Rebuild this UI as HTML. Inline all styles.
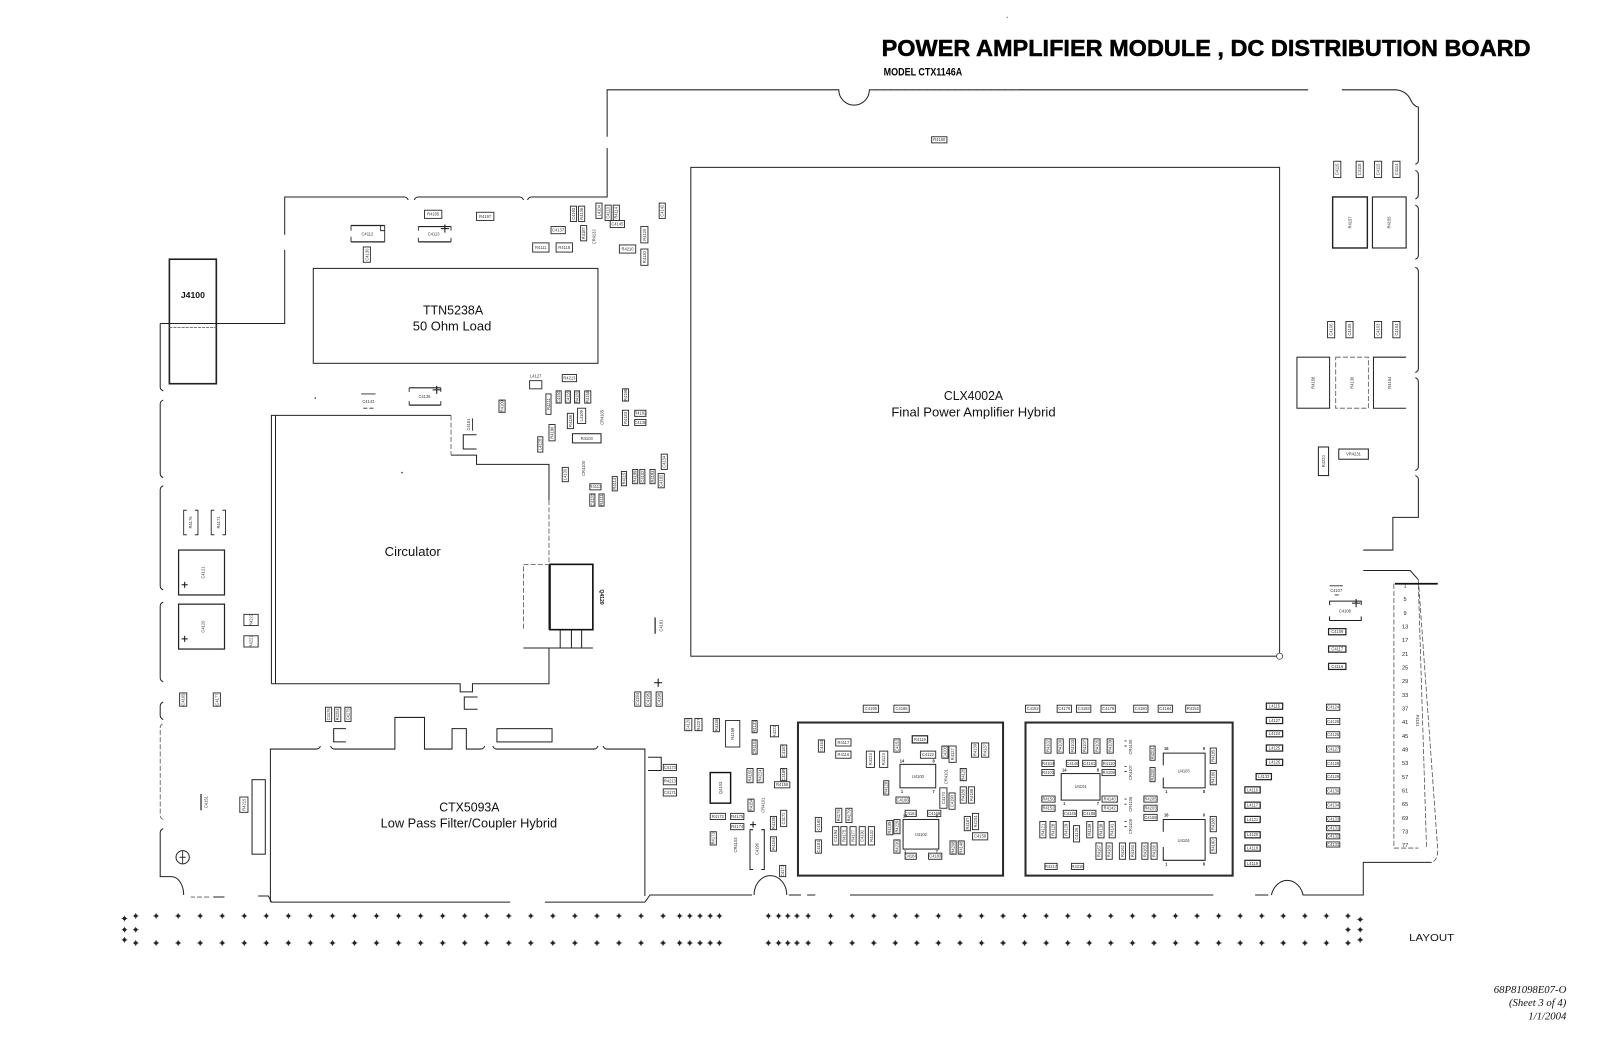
<!DOCTYPE html>
<html><head><meta charset="utf-8"><style>
html,body{margin:0;padding:0;background:#fff;}
svg{display:block}
text{font-family:"Liberation Sans",sans-serif;}
.s{font-size:4px;fill:#333;text-anchor:middle}
.n{font-size:5.5px;fill:#222;text-anchor:middle}
.c{fill:none;stroke:#2a2a2a;stroke-width:.9}
.b{fill:none;stroke:#222;stroke-width:1.2}
.l{fill:none;stroke:#222;stroke-width:1}
.g{fill:none;stroke:#555;stroke-width:.8;stroke-dasharray:5 2}
.k{fill:none;stroke:#2a2a2a;stroke-width:2}
.m{font-size:12.5px;fill:#111;text-anchor:middle}
.p{stroke:#111;stroke-width:1;fill:none}
</style></head><body>
<svg width="1600" height="1044" viewBox="0 0 1568 1023" preserveAspectRatio="none" xmlns="http://www.w3.org/2000/svg" xmlns:xlink="http://www.w3.org/1999/xlink">
<defs><g id="d"><circle r="1.7" fill="#222"/><path d="M-2.8,0H2.8M0,-2.8V2.8" stroke="#222" stroke-width=".7"/></g></defs>
<rect width="1568" height="1023" fill="#fff"/>

<!-- Title -->
<text x="864" y="55" font-size="23" font-weight="bold" textLength="636" lengthAdjust="spacingAndGlyphs" fill="#000" stroke="#000" stroke-width=".5">POWER AMPLIFIER MODULE , DC DISTRIBUTION BOARD</text>
<text x="866" y="74" font-size="10.5" font-weight="bold" textLength="77" lengthAdjust="spacingAndGlyphs" fill="#000">MODEL CTX1146A</text>
<circle cx="987" cy="17" r=".6" fill="#555"/>

<!-- Board outline -->
<path class="l" d="M157,317H279V245M279,230V193H396q3,0 4,3M406,196q1,-3 4,-3H509q3,0 4,3M517,196q1,-3 4,-3H595V145M595,134V88H822A15,15 0 0 0 852,88H1282M1315,88H1368Q1378,89 1382,97Q1385,104 1390,105V157q0,3 -3,4M1387,167q3,1 3,4V191q0,3 -3,4M1387,201q3,1 3,4V250q0,3 -3,4M1387,262q3,1 3,4V361q0,3 -3,4M1387,370q3,1 3,4V457q0,3 -3,4M1387,466q3,1 3,4V507H1365V539H1336M1336,559H1382L1390,568M1403,845H1336V877H1277A16,19 0 0 0 1246,877M1243,877H1230M1189,877H833M799,877H791M785,877H773M771,877A16,19 0 0 0 739,877M737,877H637L632,884H534M500,884H266L263,878H253M220,879H209M180,877A12,18 0 0 0 168,859H157V816q0,-3 3,-4"/>
<path class="g" d="M1390,568L1409,833Q1409,843 1403,845M205,879H187M853,88H1000"/>
<path class="l" d="M160,705q-3,-1 -3,-4V692q0,-3 3,-4M160,668q-3,-1 -3,-4V594q0,-3 3,-4M160,578q-3,-1 -3,-4V480q0,-3 3,-4M160,468q-3,-1 -3,-4V396q0,-3 3,-4M160,383q-3,-1 -3,-4V317"/>
<path class="g" d="M160,803q-3,-1 -3,-4V713q0,-3 3,-4"/>

<!-- CLX4002A -->
<rect class="l" x="677" y="164" width="577" height="479"/>
<circle cx="1254" cy="643" r="3" fill="#fff" stroke="#444" stroke-width=".8"/>
<text class="m" x="954" y="392" textLength="58" lengthAdjust="spacingAndGlyphs">CLX4002A</text>
<text class="m" x="954" y="408" textLength="161" lengthAdjust="spacingAndGlyphs">Final Power Amplifier Hybrid</text>
<rect x="913" y="134" width="15" height="6" class="c"/><text class="s" x="920.5" y="138.4">R4160</text>

<!-- TTN5238A -->
<rect class="l" x="307" y="263" width="279" height="93"/>
<text class="m" x="444" y="308" textLength="59" lengthAdjust="spacingAndGlyphs">TTN5238A</text>
<text class="m" x="443" y="324" textLength="77" lengthAdjust="spacingAndGlyphs">50 Ohm Load</text>

<!-- J4100 -->
<rect x="166" y="254" width="46" height="122" fill="none" stroke="#222" stroke-width="1.6"/>
<path d="M166,321H212" stroke="#666" stroke-width=".8" stroke-dasharray="3 1"/>
<text x="189" y="292" font-size="8.5" font-weight="bold" text-anchor="middle" fill="#111">J4100</text>

<!-- Circulator -->
<path class="l" d="M266,670V407H442M270,670V407M442,446H467V455H538V490M538,553V617M538,635V670H463V678H451V670H266M467,426H454V440H467M468,683H455V695H468"/>
<path class="g" d="M442,407V446M538,490V553"/>
<text class="m" x="404.5" y="545" textLength="55" lengthAdjust="spacingAndGlyphs">Circulator</text>
<circle cx="394" cy="463" r=".8" fill="#333"/><circle cx="309" cy="390" r=".8" fill="#333"/>
<rect x="539" y="553" width="42" height="64" fill="none" stroke="#111" stroke-width="1.6"/>
<path class="g" d="M539,553H513V617"/>
<path class="l" d="M549,617V635M560,617V635M570,617V635M513,635H581"/>
<text x="588" y="585" font-size="5" font-weight="bold" text-anchor="middle" transform="rotate(90 588 585)" fill="#111">Q4120</text>

<!-- CTX5093A -->
<path class="l" d="M265,884V734H310q3,0 4,-3M324,731q1,3 4,3H387V703H416V734H443V714H457V734H471q3,0 4,-3M483,731q1,3 4,3H582q3,0 4,-3M591,731q1,3 4,3H632V878M339,714H327V727H339M635,742H648V755H635"/>
<rect class="l" x="487" y="714" width="54" height="13"/>
<text class="m" x="460" y="795" textLength="59" lengthAdjust="spacingAndGlyphs">CTX5093A</text>
<text class="m" x="459.5" y="811" textLength="173" lengthAdjust="spacingAndGlyphs">Low Pass Filter/Coupler Hybrid</text>

<!-- Sub boards -->
<rect class="k" x="782" y="708" width="201" height="150"/>
<rect class="k" x="1005" y="708" width="203" height="150"/>

<!-- Top components -->
<rect class="c" x="416" y="206" width="17" height="8"/><text class="s" x="424.5" y="211.4">R4105</text>
<rect class="c" x="467" y="208" width="17" height="8"/><text class="s" x="475.5" y="213.4">R4197</text>
<path class="b" d="M344,221H377M344,237H377"/><path class="c" d="M344,221V226M344,232V237M377,221V237M373,221V226H377"/><text class="s" x="360" y="231">C4112</text>
<path class="b" d="M410,222H442M410,237H442"/><path class="c" d="M410,222V226M410,233V237M442,222V226M442,233V237"/><path class="p" d="M432,224H440M436,220V228"/><text class="s" x="425" y="231">C4113</text>
<rect class="c" x="356" y="242" width="7" height="15"/><text class="s" x="359.5" y="249.5" transform="rotate(-90 359.5 249.5)" dy="1.4">C4130</text>
<rect class="c" x="559" y="202" width="6" height="15"/><text class="s" x="562" y="209.5" transform="rotate(-90 562 209.5)" dy="1.4">C4193</text>
<rect class="c" x="567" y="202" width="6" height="15"/><text class="s" x="570" y="209.5" transform="rotate(-90 570 209.5)" dy="1.4">R4136</text>
<rect class="c" x="569" y="221" width="6" height="15"/><text class="s" x="572" y="228.5" transform="rotate(-90 572 228.5)" dy="1.4">R4187</text>
<rect class="c" x="584" y="199" width="6" height="15"/><text class="s" x="587" y="206.5" transform="rotate(-90 587 206.5)" dy="1.4">L4104</text>
<rect class="c" x="593" y="201" width="6" height="15"/><text class="s" x="596" y="208.5" transform="rotate(-90 596 208.5)" dy="1.4">C4110</text>
<rect class="c" x="601" y="201" width="6" height="15"/><text class="s" x="604" y="208.5" transform="rotate(-90 604 208.5)" dy="1.4">R4114</text>
<rect class="c" x="598" y="216" width="14" height="7"/><text class="s" x="605" y="220.9">C4145</text>
<rect class="c" x="646" y="199" width="6" height="15"/><text class="s" x="649" y="206.5" transform="rotate(-90 649 206.5)" dy="1.4">C4142</text>
<rect class="c" x="628" y="222" width="7" height="16"/><text class="s" x="631.5" y="230" transform="rotate(-90 631.5 230)" dy="1.4">R4120</text>
<rect class="c" x="628" y="244" width="7" height="16"/><text class="s" x="631.5" y="252" transform="rotate(-90 631.5 252)" dy="1.4">R4130</text>
<rect class="c" x="607" y="240" width="16" height="8"/><text class="s" x="615" y="245.4">R4210</text>
<rect class="c" x="540" y="222" width="14" height="7"/><text class="s" x="547" y="226.9">C4137</text>
<rect class="c" x="522" y="238" width="16" height="9"/><text class="s" x="530" y="243.9">R4111</text>
<rect class="c" x="545" y="238" width="16" height="9"/><text class="s" x="553" y="243.9">R4118</text>
<text class="s" x="582" y="232" transform="rotate(-90 582 232)" dy="1.4">CR4132</text>

<!-- Middle components -->
<path class="c" d="M354,386H368M356,400H360M362,400H366"/><text class="s" x="361" y="395">C4143</text>
<path class="b" d="M401,380H432M401,397H432"/><path class="c" d="M401,380V384M401,393V397M432,380V384M432,393V397"/><path class="p" d="M424,382H432M428,378V386"/><text class="s" x="416" y="390">C4136</text>
<rect class="c" x="519" y="373" width="12" height="8"/><text class="s" x="525" y="370">L4127</text>
<rect class="c" x="551" y="367" width="14" height="7"/><text class="s" x="558" y="371.9">R4213</text>
<rect class="c" x="535" y="386" width="5" height="20"/><text class="s" x="537.5" y="396" transform="rotate(-90 537.5 396)" dy="1.4">R4211</text>
<rect class="c" x="545" y="383" width="5" height="12"/><text class="s" x="547.5" y="389" transform="rotate(-90 547.5 389)" dy="1.4">C4150</text>
<rect class="c" x="554" y="383" width="5" height="12"/><text class="s" x="556.5" y="389" transform="rotate(-90 556.5 389)" dy="1.4">C4155</text>
<rect class="c" x="563" y="383" width="5" height="12"/><text class="s" x="565.5" y="389" transform="rotate(-90 565.5 389)" dy="1.4">R4181</text>
<rect class="c" x="573" y="383" width="6" height="12"/><text class="s" x="576" y="389" transform="rotate(-90 576 389)" dy="1.4">R4158</text>
<rect class="c" x="610" y="381" width="6" height="12"/><text class="s" x="613" y="387" transform="rotate(-90 613 387)" dy="1.4">R4198</text>
<rect class="c" x="489" y="392" width="6" height="12"/><text class="s" x="492" y="398" transform="rotate(-90 492 398)" dy="1.4">R4109</text>
<rect class="c" x="556" y="405" width="6" height="15"/><text class="s" x="559" y="412.5" transform="rotate(-90 559 412.5)" dy="1.4">R4186</text>
<rect class="c" x="566" y="400" width="8" height="15"/><text class="s" x="570" y="407.5" transform="rotate(-90 570 407.5)" dy="1.4">L4109</text>
<text class="s" x="590" y="409" transform="rotate(-90 590 409)" dy="1.4">CR4105</text>
<rect class="c" x="610" y="402" width="6" height="15"/><text class="s" x="613" y="409.5" transform="rotate(-90 613 409.5)" dy="1.4">R4183</text>
<rect class="c" x="622" y="402" width="11" height="6"/><text class="s" x="627.5" y="406.4">R4182</text>
<rect class="c" x="622" y="411" width="11" height="6"/><text class="s" x="627.5" y="415.4">C4138</text>
<rect class="c" x="538" y="416" width="6" height="16"/><text class="s" x="541" y="424" transform="rotate(-90 541 424)" dy="1.4">R4196</text>
<rect class="c" x="527" y="428" width="5" height="15"/><text class="s" x="529.5" y="435.5" transform="rotate(-90 529.5 435.5)" dy="1.4">L4128</text>
<rect class="l" x="561" y="425" width="28" height="9"/><text class="s" x="575" y="431">R4103</text>
<rect class="c" x="551" y="458" width="6" height="14"/><text class="s" x="554" y="465" transform="rotate(-90 554 465)" dy="1.4">L4100</text>
<text class="s" x="572" y="459" transform="rotate(-90 572 459)" dy="1.4">CR4100</text>
<rect class="c" x="578" y="474" width="11" height="6"/><text class="s" x="583.5" y="478.4">R4113</text>
<rect class="c" x="578" y="484" width="5" height="12"/><text class="s" x="580.5" y="490" transform="rotate(-90 580.5 490)" dy="1.4">C4120</text>
<rect class="c" x="587" y="484" width="5" height="12"/><text class="s" x="589.5" y="490" transform="rotate(-90 589.5 490)" dy="1.4">R4111</text>
<rect class="c" x="600" y="467" width="5" height="14"/><text class="s" x="602.5" y="474" transform="rotate(-90 602.5 474)" dy="1.4">R4114</text>
<rect class="c" x="609" y="462" width="5" height="14"/><text class="s" x="611.5" y="469" transform="rotate(-90 611.5 469)" dy="1.4">R4115</text>
<rect class="c" x="620" y="460" width="5" height="14"/><text class="s" x="622.5" y="467" transform="rotate(-90 622.5 467)" dy="1.4">R4199</text>
<rect class="c" x="627" y="460" width="5" height="14"/><text class="s" x="629.5" y="467" transform="rotate(-90 629.5 467)" dy="1.4">C4102</text>
<rect class="c" x="637" y="460" width="5" height="14"/><text class="s" x="639.5" y="467" transform="rotate(-90 639.5 467)" dy="1.4">R4193</text>
<rect class="c" x="648" y="445" width="6" height="15"/><text class="s" x="651" y="452.5" transform="rotate(-90 651 452.5)" dy="1.4">C4134</text>
<rect class="c" x="645" y="464" width="6" height="14"/><text class="s" x="648" y="471" transform="rotate(-90 648 471)" dy="1.4">C4182</text>
<text class="s" x="459" y="416" transform="rotate(-90 459 416)" dy="1.4">C4151</text><path class="c" d="M463,410V422"/>
<path class="b" d="M642,605V621"/><text class="s" x="648" y="613" transform="rotate(-90 648 613)" dy="1.4">C4181</text>
<rect class="c" x="622" y="678" width="6" height="14"/><text class="s" x="625" y="685" transform="rotate(-90 625 685)" dy="1.4">C4194</text>
<rect class="c" x="632" y="678" width="6" height="14"/><text class="s" x="635" y="685" transform="rotate(-90 635 685)" dy="1.4">C4195</text>
<rect class="c" x="643" y="678" width="6" height="14"/><text class="s" x="646" y="685" transform="rotate(-90 646 685)" dy="1.4">C4198</text>
<path class="p" d="M641,669H649M645,665V673"/>

<!-- Left components -->
<path class="c" d="M183,500H180V524H183M191,500H194V524H191"/><text class="s" x="187" y="512" transform="rotate(-90 187 512)" dy="1.4">R4176</text>
<path class="c" d="M210,500H207V524H210M218,500H221V524H218"/><text class="s" x="214" y="512" transform="rotate(-90 214 512)" dy="1.4">R4171</text>
<rect x="175" y="539" width="45" height="44" fill="none" stroke="#222" stroke-width="1.2"/><text class="s" x="199" y="561" transform="rotate(-90 199 561)" dy="1.4">C4121</text><path class="p" d="M178,573H184M181,570V576"/>
<rect x="175" y="592" width="45" height="44" fill="none" stroke="#222" stroke-width="1.2"/><text class="s" x="199" y="614" transform="rotate(-90 199 614)" dy="1.4">C4120</text><path class="p" d="M178,626H184M181,623V629"/>
<rect class="c" x="239" y="602" width="14" height="11"/><text class="s" x="246" y="607.5" transform="rotate(-90 246 607.5)" dy="1.4">R4222</text>
<rect class="c" x="239" y="623" width="14" height="11"/><text class="s" x="246" y="628.5" transform="rotate(-90 246 628.5)" dy="1.4">R4221</text>
<rect class="c" x="176" y="679" width="7" height="13"/><text class="s" x="179.5" y="685.5" transform="rotate(-90 179.5 685.5)" dy="1.4">C4165</text>
<rect class="c" x="209" y="679" width="7" height="13"/><text class="s" x="212.5" y="685.5" transform="rotate(-90 212.5 685.5)" dy="1.4">C4177</text>
<path class="b" d="M197,778V794"/><text class="s" x="202" y="786" transform="rotate(-90 202 786)" dy="1.4">C4151</text>
<rect class="c" x="235" y="781" width="8" height="15"/><text class="s" x="239" y="788.5" transform="rotate(-90 239 788.5)" dy="1.4">R4215</text>
<rect class="l" x="247" y="764" width="13" height="73"/>
<circle cx="179" cy="840" r="6.5" class="l"/><path class="c" d="M179,834V846M176,840H182"/>
<rect class="c" x="319" y="693" width="6" height="14"/><text class="s" x="322" y="700" transform="rotate(-90 322 700)" dy="1.4">C4176</text>
<rect class="c" x="328" y="693" width="6" height="14"/><text class="s" x="331" y="700" transform="rotate(-90 331 700)" dy="1.4">R4204</text>
<rect class="c" x="338" y="693" width="6" height="14"/><text class="s" x="341" y="700" transform="rotate(-90 341 700)" dy="1.4">C4175</text>
<rect class="c" x="650" y="749" width="13" height="6"/><text class="s" x="656.5" y="753.4">C4173</text>
<rect class="c" x="650" y="762" width="13" height="7"/><text class="s" x="656.5" y="766.9">R4213</text>
<rect class="c" x="650" y="773" width="13" height="7"/><text class="s" x="656.5" y="777.9">C4171</text>

<!-- Bottom middle-left components -->
<rect class="c" x="671" y="704" width="7" height="12"/><text class="s" x="674.5" y="710" transform="rotate(-90 674.5 710)" dy="1.4">C4120</text>
<rect class="c" x="681" y="704" width="7" height="12"/><text class="s" x="684.5" y="710" transform="rotate(-90 684.5 710)" dy="1.4">R4207</text>
<rect class="c" x="699" y="704" width="6" height="13"/><text class="s" x="702" y="710.5" transform="rotate(-90 702 710.5)" dy="1.4">R4138</text>
<rect class="c" x="711" y="706" width="14" height="26"/><text class="s" x="718" y="719" transform="rotate(-90 718 719)" dy="1.4">R4159</text>
<rect class="c" x="737" y="706" width="5" height="12"/><text class="s" x="739.5" y="712" transform="rotate(-90 739.5 712)" dy="1.4">R4131</text>
<rect class="c" x="755" y="711" width="8" height="11"/><text class="s" x="759" y="716.5" transform="rotate(-90 759 716.5)" dy="1.4">R4221</text>
<rect class="c" x="737" y="725" width="5" height="14"/><text class="s" x="739.5" y="732" transform="rotate(-90 739.5 732)" dy="1.4">CR4104</text>
<rect class="c" x="765" y="730" width="6" height="12"/><text class="s" x="768" y="736" transform="rotate(-90 768 736)" dy="1.4">C4187</text>
<rect class="c" x="732" y="753" width="6" height="14"/><text class="s" x="735" y="760" transform="rotate(-90 735 760)" dy="1.4">R4150</text>
<rect class="c" x="742" y="753" width="6" height="14"/><text class="s" x="745" y="760" transform="rotate(-90 745 760)" dy="1.4">R4224</text>
<rect class="c" x="765" y="753" width="6" height="12"/><text class="s" x="768" y="759" transform="rotate(-90 768 759)" dy="1.4">C4189</text>
<rect class="c" x="759" y="766" width="15" height="6"/><text class="s" x="766.5" y="770.4">R4156</text>
<rect x="696" y="757" width="20" height="30" fill="none" stroke="#111" stroke-width="1.4"/><text class="s" x="706" y="772" transform="rotate(-90 706 772)" dy="1.4">Q4103</text>
<rect class="c" x="733" y="783" width="6" height="12"/><text class="s" x="736" y="789" transform="rotate(-90 736 789)" dy="1.4">R4154</text>
<text class="s" x="748" y="789" transform="rotate(-90 748 789)" dy="1.4">CR4101</text>
<rect class="c" x="755" y="800" width="6" height="13"/><text class="s" x="758" y="806.5" transform="rotate(-90 758 806.5)" dy="1.4">R4135</text>
<rect class="c" x="765" y="794" width="6" height="16"/><text class="s" x="768" y="802" transform="rotate(-90 768 802)" dy="1.4">C4172</text>
<rect class="c" x="696" y="797" width="15" height="6"/><text class="s" x="703.5" y="801.4">R4172</text>
<rect class="c" x="716" y="797" width="13" height="6"/><text class="s" x="722.5" y="801.4">R4175</text>
<rect class="c" x="716" y="807" width="13" height="6"/><text class="s" x="722.5" y="811.4">R4174</text>
<rect class="c" x="696" y="815" width="6" height="13"/><text class="s" x="699" y="821.5" transform="rotate(-90 699 821.5)" dy="1.4">R4173</text>
<text class="s" x="721" y="828" transform="rotate(-90 721 828)" dy="1.4">CR4103</text>
<path class="l" d="M738,813H735V852H738M746,813H749V852H746"/><text class="s" x="742" y="832" transform="rotate(-90 742 832)" dy="1.4">C4196</text><path class="p" d="M735,808H741M738,805V811"/>
<rect class="c" x="755" y="820" width="6" height="14"/><text class="s" x="758" y="827" transform="rotate(-90 758 827)" dy="1.4">R4184</text>
<rect class="c" x="764" y="848" width="6" height="11"/><text class="s" x="767" y="853.5" transform="rotate(-90 767 853.5)" dy="1.4">C4174</text>

<!-- Labels above sub-boards -->
<rect class="c" x="846" y="691" width="15" height="7"/><text class="s" x="853.5" y="695.9">C4195</text>
<rect class="c" x="876" y="691" width="15" height="7"/><text class="s" x="883.5" y="695.9">C4185</text>
<rect class="c" x="1005" y="691" width="14" height="7"/><text class="s" x="1012" y="695.9">C4182</text>
<rect class="c" x="1036" y="691" width="14" height="7"/><text class="s" x="1043" y="695.9">C4176</text>
<rect class="c" x="1055" y="691" width="14" height="7"/><text class="s" x="1062" y="695.9">C4183</text>
<rect class="c" x="1079" y="691" width="14" height="7"/><text class="s" x="1086" y="695.9">C4179</text>
<rect class="c" x="1111" y="691" width="14" height="7"/><text class="s" x="1118" y="695.9">C4180</text>
<rect class="c" x="1135" y="691" width="14" height="7"/><text class="s" x="1142" y="695.9">C4184</text>
<rect class="c" x="1162" y="691" width="14" height="7"/><text class="s" x="1169" y="695.9">R4152</text>

<!-- Sub-board 1 internals -->
<rect class="c" x="802" y="725" width="6" height="12"/><text class="s" x="805" y="731" transform="rotate(-90 805 731)" dy="1.4">C4153</text>
<rect class="c" x="819" y="724" width="15" height="7"/><text class="s" x="826.5" y="728.9">R4117</text>
<rect class="c" x="819" y="736" width="15" height="7"/><text class="s" x="826.5" y="740.9">R4116</text>
<rect class="c" x="849" y="736" width="8" height="16"/><text class="s" x="853" y="744" transform="rotate(-90 853 744)" dy="1.4">R4124</text>
<rect class="c" x="862" y="736" width="8" height="16"/><text class="s" x="866" y="744" transform="rotate(-90 866 744)" dy="1.4">R4123</text>
<rect class="c" x="876" y="724" width="6" height="13"/><text class="s" x="879" y="730.5" transform="rotate(-90 879 730.5)" dy="1.4">C4152</text>
<rect class="b" x="894" y="721" width="15" height="7"/><text class="s" x="901.5" y="725.9">R4119</text>
<rect class="c" x="902" y="736" width="15" height="7"/><text class="s" x="909.5" y="740.9">C4122</text>
<rect class="c" x="923" y="731" width="6" height="12"/><text class="s" x="926" y="737" transform="rotate(-90 926 737)" dy="1.4">C4200</text>
<rect class="c" x="930" y="731" width="7" height="16"/><text class="s" x="933.5" y="739" transform="rotate(-90 933.5 739)" dy="1.4">R4127</text>
<rect class="c" x="952" y="728" width="7" height="14"/><text class="s" x="955.5" y="735" transform="rotate(-90 955.5 735)" dy="1.4">R4139</text>
<rect class="c" x="962" y="728" width="7" height="14"/><text class="s" x="965.5" y="735" transform="rotate(-90 965.5 735)" dy="1.4">R4137</text>
<rect class="c" x="941" y="753" width="6" height="12"/><text class="s" x="944" y="759" transform="rotate(-90 944 759)" dy="1.4">R4125</text>
<text class="s" x="927" y="761" transform="rotate(-90 927 761)" dy="1.4">CR4101</text>
<rect class="c" x="866" y="765" width="5" height="14"/><text class="s" x="868.5" y="772" transform="rotate(-90 868.5 772)" dy="1.4">R4128</text>
<rect class="c" x="878" y="781" width="13" height="6"/><text class="s" x="884.5" y="785.4">C4166</text>
<rect class="c" x="921" y="772" width="7" height="20"/><text class="s" x="924.5" y="782" transform="rotate(-90 924.5 782)" dy="1.4">C4170</text>
<rect class="c" x="930" y="777" width="6" height="16"/><text class="s" x="933" y="785" transform="rotate(-90 933 785)" dy="1.4">C4190</text>
<rect class="c" x="941" y="771" width="6" height="16"/><text class="s" x="944" y="779" transform="rotate(-90 944 779)" dy="1.4">R4186</text>
<rect class="c" x="949" y="771" width="6" height="16"/><text class="s" x="952" y="779" transform="rotate(-90 952 779)" dy="1.4">R4188</text>
<rect class="c" x="887" y="794" width="11" height="6"/><text class="s" x="892.5" y="798.4">C4163</text>
<rect class="c" x="909" y="794" width="13" height="6"/><text class="s" x="915.5" y="798.4">C4168</text>
<rect class="c" x="945" y="800" width="6" height="14"/><text class="s" x="948" y="807" transform="rotate(-90 948 807)" dy="1.4">R4187</text>
<rect class="c" x="953" y="797" width="6" height="16"/><text class="s" x="956" y="805" transform="rotate(-90 956 805)" dy="1.4">R4204</text>
<rect class="c" x="953" y="816" width="15" height="7"/><text class="s" x="960.5" y="820.9">C4158</text>
<rect class="c" x="869" y="804" width="6" height="14"/><text class="s" x="872" y="811" transform="rotate(-90 872 811)" dy="1.4">R4189</text>
<rect class="c" x="876" y="803" width="6" height="14"/><text class="s" x="879" y="810" transform="rotate(-90 879 810)" dy="1.4">R4229</text>
<rect class="c" x="876" y="823" width="6" height="13"/><text class="s" x="879" y="829.5" transform="rotate(-90 879 829.5)" dy="1.4">R4230</text>
<rect class="c" x="887" y="836" width="11" height="6"/><text class="s" x="892.5" y="840.4">C4184</text>
<rect class="c" x="910" y="836" width="13" height="6"/><text class="s" x="916.5" y="840.4">C4183</text>
<rect class="c" x="931" y="824" width="6" height="13"/><text class="s" x="934" y="830.5" transform="rotate(-90 934 830.5)" dy="1.4">R4208</text>
<rect class="c" x="939" y="824" width="6" height="13"/><text class="s" x="942" y="830.5" transform="rotate(-90 942 830.5)" dy="1.4">R4148</text>
<rect class="c" x="799" y="823" width="6" height="13"/><text class="s" x="802" y="829.5" transform="rotate(-90 802 829.5)" dy="1.4">C4181</text>
<rect class="c" x="799" y="801" width="6" height="14"/><text class="s" x="802" y="808" transform="rotate(-90 802 808)" dy="1.4">C4180</text>
<rect class="c" x="816" y="810" width="6" height="18"/><text class="s" x="819" y="819" transform="rotate(-90 819 819)" dy="1.4">C4194</text>
<rect class="c" x="824" y="810" width="6" height="18"/><text class="s" x="827" y="819" transform="rotate(-90 827 819)" dy="1.4">R4175</text>
<rect class="c" x="833" y="810" width="6" height="18"/><text class="s" x="836" y="819" transform="rotate(-90 836 819)" dy="1.4">R4177</text>
<rect class="c" x="842" y="810" width="6" height="18"/><text class="s" x="845" y="819" transform="rotate(-90 845 819)" dy="1.4">C4192</text>
<rect class="c" x="851" y="810" width="6" height="18"/><text class="s" x="854" y="819" transform="rotate(-90 854 819)" dy="1.4">R4132</text>
<rect class="c" x="819" y="792" width="6" height="14"/><text class="s" x="822" y="799" transform="rotate(-90 822 799)" dy="1.4">R4178</text>
<rect class="c" x="829" y="792" width="6" height="14"/><text class="s" x="832" y="799" transform="rotate(-90 832 799)" dy="1.4">R4179</text>
<rect x="882" y="749" width="35" height="23" fill="none" stroke="#222" stroke-width="1"/><text class="s" x="899.5" y="762.5">U4100</text>
<text class="s" x="884" y="747" font-weight="bold">14</text><text class="s" x="915" y="747" font-weight="bold">8</text><text class="s" x="884" y="777" font-weight="bold">1</text><text class="s" x="915" y="777" font-weight="bold">7</text>
<rect x="885" y="803" width="35" height="29" fill="none" stroke="#222" stroke-width="1"/><text class="s" x="902.5" y="819">U4102</text>
<text class="s" x="887" y="801" font-weight="bold">14</text><text class="s" x="918" y="801" font-weight="bold">8</text><text class="s" x="887" y="836" font-weight="bold">1</text><text class="s" x="918" y="836" font-weight="bold">7</text>

<!-- Sub-board 2 internals -->
<rect class="c" x="1024" y="724" width="6" height="14"/><text class="s" x="1027" y="731" transform="rotate(-90 1027 731)" dy="1.4">R4102</text>
<rect class="c" x="1036" y="724" width="6" height="14"/><text class="s" x="1039" y="731" transform="rotate(-90 1039 731)" dy="1.4">R4106</text>
<rect class="c" x="1048" y="724" width="6" height="14"/><text class="s" x="1051" y="731" transform="rotate(-90 1051 731)" dy="1.4">R4103</text>
<rect class="c" x="1060" y="724" width="6" height="14"/><text class="s" x="1063" y="731" transform="rotate(-90 1063 731)" dy="1.4">R4107</text>
<rect class="c" x="1072" y="724" width="6" height="14"/><text class="s" x="1075" y="731" transform="rotate(-90 1075 731)" dy="1.4">R4105</text>
<rect class="c" x="1085" y="724" width="6" height="14"/><text class="s" x="1088" y="731" transform="rotate(-90 1088 731)" dy="1.4">R4109</text>
<rect class="c" x="1021" y="745" width="12" height="6"/><text class="s" x="1027" y="749.4">R4104</text>
<rect class="c" x="1045" y="745" width="12" height="6"/><text class="s" x="1051" y="749.4">C4146</text>
<rect class="c" x="1061" y="745" width="13" height="6"/><text class="s" x="1067.5" y="749.4">C4161</text>
<rect class="c" x="1080" y="745" width="13" height="6"/><text class="s" x="1086.5" y="749.4">R4110</text>
<rect class="c" x="1021" y="754" width="12" height="6"/><text class="s" x="1027" y="758.4">R4102</text>
<rect class="c" x="1080" y="754" width="13" height="6"/><text class="s" x="1086.5" y="758.4">R4108</text>
<text class="s" x="1108" y="732" transform="rotate(-90 1108 732)" dy="1.4">CR4106</text>
<text class="s" x="1108" y="757" transform="rotate(-90 1108 757)" dy="1.4">CR4107</text>
<text class="s" x="1108" y="788" transform="rotate(-90 1108 788)" dy="1.4">CR4105</text>
<text class="s" x="1108" y="810" transform="rotate(-90 1108 810)" dy="1.4">CR4108</text>
<path class="c" d="M1102,726h2M1102,731h2M1102,751h2M1102,756h2M1102,783h2M1102,788h2M1102,805h2M1102,810h2"/>
<rect class="c" x="1127" y="731" width="5" height="14"/><text class="s" x="1129.5" y="738" transform="rotate(-90 1129.5 738)" dy="1.4">R4201</text>
<rect class="c" x="1127" y="752" width="5" height="14"/><text class="s" x="1129.5" y="759" transform="rotate(-90 1129.5 759)" dy="1.4">R4200</text>
<rect class="c" x="1186" y="733" width="6" height="15"/><text class="s" x="1189" y="740.5" transform="rotate(-90 1189 740.5)" dy="1.4">R4185</text>
<rect class="c" x="1186" y="755" width="6" height="14"/><text class="s" x="1189" y="762" transform="rotate(-90 1189 762)" dy="1.4">R4186</text>
<rect class="c" x="1021" y="780" width="13" height="6"/><text class="s" x="1027.5" y="784.4">R4150</text>
<rect class="c" x="1021" y="789" width="13" height="6"/><text class="s" x="1027.5" y="793.4">R4152</text>
<rect class="c" x="1080" y="780" width="15" height="6"/><text class="s" x="1087.5" y="784.4">R4140</text>
<rect class="c" x="1080" y="789" width="15" height="6"/><text class="s" x="1087.5" y="793.4">R4142</text>
<rect class="c" x="1042" y="794" width="13" height="6"/><text class="s" x="1048.5" y="798.4">C4145</text>
<rect class="c" x="1061" y="794" width="13" height="6"/><text class="s" x="1067.5" y="798.4">C4185</text>
<rect class="c" x="1121" y="780" width="13" height="6"/><text class="s" x="1127.5" y="784.4">R4205</text>
<rect class="c" x="1121" y="789" width="13" height="6"/><text class="s" x="1127.5" y="793.4">R4203</text>
<rect class="c" x="1121" y="798" width="13" height="6"/><text class="s" x="1127.5" y="802.4">C4159</text>
<rect class="c" x="1019" y="805" width="6" height="16"/><text class="s" x="1022" y="813" transform="rotate(-90 1022 813)" dy="1.4">R4121</text>
<rect class="c" x="1029" y="805" width="6" height="16"/><text class="s" x="1032" y="813" transform="rotate(-90 1032 813)" dy="1.4">R4128</text>
<rect class="c" x="1042" y="805" width="6" height="16"/><text class="s" x="1045" y="813" transform="rotate(-90 1045 813)" dy="1.4">R4129</text>
<rect class="c" x="1052" y="809" width="6" height="16"/><text class="s" x="1055" y="817" transform="rotate(-90 1055 817)" dy="1.4">C4126</text>
<rect class="c" x="1065" y="805" width="6" height="16"/><text class="s" x="1068" y="813" transform="rotate(-90 1068 813)" dy="1.4">R4139</text>
<rect class="c" x="1076" y="805" width="6" height="16"/><text class="s" x="1079" y="813" transform="rotate(-90 1079 813)" dy="1.4">R4138</text>
<rect class="c" x="1087" y="805" width="6" height="16"/><text class="s" x="1090" y="813" transform="rotate(-90 1090 813)" dy="1.4">R4141</text>
<rect class="c" x="1024" y="846" width="12" height="6"/><text class="s" x="1030" y="850.4">R4217</text>
<rect class="c" x="1050" y="846" width="12" height="6"/><text class="s" x="1056" y="850.4">R4216</text>
<rect class="c" x="1074" y="826" width="6" height="16"/><text class="s" x="1077" y="834" transform="rotate(-90 1077 834)" dy="1.4">R4167</text>
<rect class="c" x="1084" y="826" width="6" height="16"/><text class="s" x="1087" y="834" transform="rotate(-90 1087 834)" dy="1.4">R4169</text>
<rect class="c" x="1097" y="826" width="6" height="16"/><text class="s" x="1100" y="834" transform="rotate(-90 1100 834)" dy="1.4">R4162</text>
<rect class="c" x="1107" y="826" width="6" height="16"/><text class="s" x="1110" y="834" transform="rotate(-90 1110 834)" dy="1.4">R4163</text>
<rect class="c" x="1119" y="826" width="6" height="16"/><text class="s" x="1122" y="834" transform="rotate(-90 1122 834)" dy="1.4">R4165</text>
<rect class="c" x="1128" y="826" width="6" height="16"/><text class="s" x="1131" y="834" transform="rotate(-90 1131 834)" dy="1.4">R4166</text>
<rect class="c" x="1186" y="800" width="6" height="15"/><text class="s" x="1189" y="807.5" transform="rotate(-90 1189 807.5)" dy="1.4">R4188</text>
<rect class="c" x="1186" y="821" width="6" height="15"/><text class="s" x="1189" y="828.5" transform="rotate(-90 1189 828.5)" dy="1.4">R4190</text>
<rect x="1040" y="758" width="38" height="26" fill="none" stroke="#222" stroke-width="1"/><text class="s" x="1059" y="772">U4101</text>
<text class="s" x="1043" y="756" font-weight="bold">14</text><text class="s" x="1076" y="756" font-weight="bold">8</text><text class="s" x="1043" y="789" font-weight="bold">1</text><text class="s" x="1076" y="789" font-weight="bold">7</text>
<path d="M1140,750V738H1181V772H1140V762" fill="none" stroke="#222" stroke-width="1"/><text class="s" x="1160" y="757">U4103</text>
<text class="s" x="1143" y="735" font-weight="bold">16</text><text class="s" x="1180" y="735" font-weight="bold">9</text><text class="s" x="1143" y="777" font-weight="bold">1</text><text class="s" x="1180" y="777" font-weight="bold">8</text>
<path d="M1140,815V803H1181V843H1140V830" fill="none" stroke="#222" stroke-width="1"/><text class="s" x="1160" y="825">U4104</text>
<text class="s" x="1143" y="800" font-weight="bold">16</text><text class="s" x="1180" y="800" font-weight="bold">9</text><text class="s" x="1143" y="848" font-weight="bold">1</text><text class="s" x="1180" y="848" font-weight="bold">8</text>

<!-- Right of CLX -->
<rect class="c" x="1307" y="158" width="7" height="16"/><text class="s" x="1310.5" y="166" transform="rotate(-90 1310.5 166)" dy="1.4">C4115</text>
<rect class="c" x="1329" y="158" width="7" height="16"/><text class="s" x="1332.5" y="166" transform="rotate(-90 1332.5 166)" dy="1.4">C4118</text>
<rect class="c" x="1347" y="158" width="7" height="16"/><text class="s" x="1350.5" y="166" transform="rotate(-90 1350.5 166)" dy="1.4">C4115</text>
<rect class="c" x="1365" y="158" width="7" height="16"/><text class="s" x="1368.5" y="166" transform="rotate(-90 1368.5 166)" dy="1.4">C4114</text>
<rect x="1306" y="193" width="34" height="50" fill="none" stroke="#222" stroke-width="1.4"/><text class="s" x="1323" y="218" transform="rotate(-90 1323 218)" dy="1.4">R4157</text>
<rect x="1345" y="193" width="33" height="50" fill="none" stroke="#222" stroke-width="1.1"/><text class="s" x="1361.5" y="218" transform="rotate(-90 1361.5 218)" dy="1.4">R4155</text>
<rect class="c" x="1301" y="315" width="7" height="16"/><text class="s" x="1304.5" y="323" transform="rotate(-90 1304.5 323)" dy="1.4">C4106</text>
<rect class="c" x="1319" y="315" width="7" height="16"/><text class="s" x="1322.5" y="323" transform="rotate(-90 1322.5 323)" dy="1.4">C4105</text>
<rect class="c" x="1347" y="315" width="7" height="16"/><text class="s" x="1350.5" y="323" transform="rotate(-90 1350.5 323)" dy="1.4">C4103</text>
<rect class="c" x="1365" y="315" width="7" height="16"/><text class="s" x="1368.5" y="323" transform="rotate(-90 1368.5 323)" dy="1.4">C4104</text>
<rect class="l" x="1271" y="350" width="32" height="50"/><text class="s" x="1287" y="375" transform="rotate(-90 1287 375)" dy="1.4">R4158</text>
<rect class="g" x="1309" y="350" width="32" height="50"/><text class="s" x="1325" y="375" transform="rotate(-90 1325 375)" dy="1.4">R4136</text>
<path class="l" d="M1378,350H1346V400H1378"/><text class="s" x="1362" y="375" transform="rotate(-90 1362 375)" dy="1.4">R4154</text>
<rect class="l" x="1292" y="438" width="10" height="28"/><text class="s" x="1297" y="452" transform="rotate(-90 1297 452)" dy="1.4">R4220</text>
<rect class="l" x="1312" y="440" width="29" height="10"/><text class="s" x="1326.5" y="446.5">VR4231</text>

<!-- Lower right stacks -->
<path class="c" d="M1303,574H1316M1308,583H1312"/><text class="s" x="1309.5" y="580">C4107</text>
<path class="l" d="M1303,593V589H1334V593M1303,604V608H1334V604"/><path class="p" d="M1325,591H1333M1329,587V595"/><text class="s" x="1318" y="600">C4108</text>
<rect class="b" x="1302" y="616" width="17" height="6"/><text class="s" x="1310.5" y="620.4">C4109</text>
<rect class="b" x="1302" y="633" width="17" height="6"/><text class="s" x="1310.5" y="637.4">C4117</text>
<rect class="b" x="1302" y="650" width="17" height="6"/><text class="s" x="1310.5" y="654.4">C4116</text>
<rect class="b" x="1241" y="689" width="16" height="6"/><text class="s" x="1249" y="693.4">L4115</text>
<rect class="b" x="1241" y="703" width="16" height="6"/><text class="s" x="1249" y="707.4">L4127</text>
<rect class="b" x="1241" y="716" width="16" height="6"/><text class="s" x="1249" y="720.4">L4124</text>
<rect class="b" x="1241" y="730" width="16" height="6"/><text class="s" x="1249" y="734.4">L4125</text>
<rect class="b" x="1241" y="744" width="16" height="6"/><text class="s" x="1249" y="748.4">L4126</text>
<rect class="b" x="1231" y="758" width="15" height="6"/><text class="s" x="1238.5" y="762.4">L4133</text>
<rect class="b" x="1220" y="771" width="15" height="6"/><text class="s" x="1227.5" y="775.4">L4116</text>
<rect class="b" x="1220" y="786" width="15" height="6"/><text class="s" x="1227.5" y="790.4">L4117</text>
<rect class="b" x="1220" y="800" width="15" height="6"/><text class="s" x="1227.5" y="804.4">L4121</text>
<rect class="b" x="1220" y="815" width="15" height="6"/><text class="s" x="1227.5" y="819.4">L4120</text>
<rect class="b" x="1220" y="828" width="15" height="6"/><text class="s" x="1227.5" y="832.4">L4118</text>
<rect class="b" x="1220" y="843" width="15" height="6"/><text class="s" x="1227.5" y="847.4">L4119</text>
<rect class="c" x="1300" y="690" width="13" height="6"/><text class="s" x="1306.5" y="694.4">C4124</text>
<rect class="c" x="1300" y="704" width="13" height="6"/><text class="s" x="1306.5" y="708.4">C4126</text>
<rect class="c" x="1300" y="717" width="13" height="6"/><text class="s" x="1306.5" y="721.4">C4125</text>
<rect class="c" x="1300" y="731" width="13" height="6"/><text class="s" x="1306.5" y="735.4">C4127</text>
<rect class="c" x="1300" y="745" width="13" height="6"/><text class="s" x="1306.5" y="749.4">C4128</text>
<rect class="c" x="1300" y="758" width="13" height="6"/><text class="s" x="1306.5" y="762.4">C4129</text>
<rect class="c" x="1300" y="772" width="13" height="6"/><text class="s" x="1306.5" y="776.4">C4130</text>
<rect class="c" x="1300" y="786" width="13" height="6"/><text class="s" x="1306.5" y="790.4">C4134</text>
<rect class="c" x="1300" y="800" width="13" height="5"/><text class="s" x="1306.5" y="803.9">C4133</text>
<rect class="c" x="1300" y="809" width="13" height="5"/><text class="s" x="1306.5" y="812.9">C4131</text>
<rect class="c" x="1300" y="817" width="13" height="5"/><text class="s" x="1306.5" y="820.9">C4132</text>
<rect class="c" x="1300" y="825" width="13" height="5"/><text class="s" x="1306.5" y="828.9">C4133</text>

<!-- P4101 connector -->
<path d="M1367,572H1409" stroke="#111" stroke-width="1.8"/>
<path class="g" d="M1366,572V831H1390M1390,573L1398,831"/>
<text class="n" x="1377" y="575.5">1</text><text class="n" x="1377" y="589">5</text><text class="n" x="1377" y="602.4">9</text><text class="n" x="1377" y="615.8">13</text><text class="n" x="1377" y="629.2">17</text><text class="n" x="1377" y="642.6">21</text><text class="n" x="1377" y="656">25</text><text class="n" x="1377" y="669.4">29</text><text class="n" x="1377" y="682.8">33</text><text class="n" x="1377" y="696.2">37</text><text class="n" x="1377" y="709.6">41</text><text class="n" x="1377" y="723">45</text><text class="n" x="1377" y="736.4">49</text><text class="n" x="1377" y="749.8">53</text><text class="n" x="1377" y="763.2">57</text><text class="n" x="1377" y="776.6">61</text><text class="n" x="1377" y="790">65</text><text class="n" x="1377" y="803.4">69</text><text class="n" x="1377" y="816.8">73</text><text class="n" x="1377" y="830.2">77</text>
<text class="s" x="1389" y="706" transform="rotate(90 1389 706)" dy="1.4">P4101</text>

<!-- Dot rows -->
<g>
<use href="#d" xlink:href="#d" x="122" y="900"/><use href="#d" xlink:href="#d" x="133" y="897.5"/><use href="#d" xlink:href="#d" x="122" y="911"/><use href="#d" xlink:href="#d" x="133" y="911"/><use href="#d" xlink:href="#d" x="122" y="921"/><use href="#d" xlink:href="#d" x="133" y="924"/>
<use href="#d" xlink:href="#d" x="153" y="897.5"/><use href="#d" xlink:href="#d" x="174.6" y="897.5"/><use href="#d" xlink:href="#d" x="196.2" y="897.5"/><use href="#d" xlink:href="#d" x="217.8" y="897.5"/><use href="#d" xlink:href="#d" x="239.4" y="897.5"/><use href="#d" xlink:href="#d" x="261" y="897.5"/><use href="#d" xlink:href="#d" x="282.6" y="897.5"/><use href="#d" xlink:href="#d" x="304.2" y="897.5"/><use href="#d" xlink:href="#d" x="325.8" y="897.5"/><use href="#d" xlink:href="#d" x="347.4" y="897.5"/><use href="#d" xlink:href="#d" x="369" y="897.5"/><use href="#d" xlink:href="#d" x="390.6" y="897.5"/><use href="#d" xlink:href="#d" x="412.2" y="897.5"/><use href="#d" xlink:href="#d" x="433.8" y="897.5"/><use href="#d" xlink:href="#d" x="455.4" y="897.5"/><use href="#d" xlink:href="#d" x="477" y="897.5"/><use href="#d" xlink:href="#d" x="498.6" y="897.5"/><use href="#d" xlink:href="#d" x="520.2" y="897.5"/><use href="#d" xlink:href="#d" x="541.8" y="897.5"/><use href="#d" xlink:href="#d" x="563.4" y="897.5"/><use href="#d" xlink:href="#d" x="585" y="897.5"/><use href="#d" xlink:href="#d" x="606.6" y="897.5"/><use href="#d" xlink:href="#d" x="628.2" y="897.5"/><use href="#d" xlink:href="#d" x="649.8" y="897.5"/>
<use href="#d" xlink:href="#d" x="666" y="897.5"/><use href="#d" xlink:href="#d" x="676" y="897.5"/><use href="#d" xlink:href="#d" x="686" y="897.5"/><use href="#d" xlink:href="#d" x="696" y="897.5"/><use href="#d" xlink:href="#d" x="705" y="897.5"/>
<use href="#d" xlink:href="#d" x="153" y="924"/><use href="#d" xlink:href="#d" x="174.6" y="924"/><use href="#d" xlink:href="#d" x="196.2" y="924"/><use href="#d" xlink:href="#d" x="217.8" y="924"/><use href="#d" xlink:href="#d" x="239.4" y="924"/><use href="#d" xlink:href="#d" x="261" y="924"/><use href="#d" xlink:href="#d" x="282.6" y="924"/><use href="#d" xlink:href="#d" x="304.2" y="924"/><use href="#d" xlink:href="#d" x="325.8" y="924"/><use href="#d" xlink:href="#d" x="347.4" y="924"/><use href="#d" xlink:href="#d" x="369" y="924"/><use href="#d" xlink:href="#d" x="390.6" y="924"/><use href="#d" xlink:href="#d" x="412.2" y="924"/><use href="#d" xlink:href="#d" x="433.8" y="924"/><use href="#d" xlink:href="#d" x="455.4" y="924"/><use href="#d" xlink:href="#d" x="477" y="924"/><use href="#d" xlink:href="#d" x="498.6" y="924"/><use href="#d" xlink:href="#d" x="520.2" y="924"/><use href="#d" xlink:href="#d" x="541.8" y="924"/><use href="#d" xlink:href="#d" x="563.4" y="924"/><use href="#d" xlink:href="#d" x="585" y="924"/><use href="#d" xlink:href="#d" x="606.6" y="924"/><use href="#d" xlink:href="#d" x="628.2" y="924"/><use href="#d" xlink:href="#d" x="649.8" y="924"/>
<use href="#d" xlink:href="#d" x="666" y="924"/><use href="#d" xlink:href="#d" x="676" y="924"/><use href="#d" xlink:href="#d" x="686" y="924"/><use href="#d" xlink:href="#d" x="696" y="924"/><use href="#d" xlink:href="#d" x="705" y="924"/>
<use href="#d" xlink:href="#d" x="753" y="897.5"/><use href="#d" xlink:href="#d" x="763" y="897.5"/><use href="#d" xlink:href="#d" x="772" y="897.5"/><use href="#d" xlink:href="#d" x="781" y="897.5"/><use href="#d" xlink:href="#d" x="792" y="897.5"/>
<use href="#d" xlink:href="#d" x="753" y="924"/><use href="#d" xlink:href="#d" x="763" y="924"/><use href="#d" xlink:href="#d" x="772" y="924"/><use href="#d" xlink:href="#d" x="781" y="924"/><use href="#d" xlink:href="#d" x="792" y="924"/>
<use href="#d" xlink:href="#d" x="814" y="897.5"/><use href="#d" xlink:href="#d" x="835.1" y="897.5"/><use href="#d" xlink:href="#d" x="856.3" y="897.5"/><use href="#d" xlink:href="#d" x="877.4" y="897.5"/><use href="#d" xlink:href="#d" x="898.5" y="897.5"/><use href="#d" xlink:href="#d" x="919.6" y="897.5"/><use href="#d" xlink:href="#d" x="940.8" y="897.5"/><use href="#d" xlink:href="#d" x="961.9" y="897.5"/><use href="#d" xlink:href="#d" x="983" y="897.5"/><use href="#d" xlink:href="#d" x="1004.1" y="897.5"/><use href="#d" xlink:href="#d" x="1025.3" y="897.5"/><use href="#d" xlink:href="#d" x="1046.4" y="897.5"/><use href="#d" xlink:href="#d" x="1067.5" y="897.5"/><use href="#d" xlink:href="#d" x="1088.6" y="897.5"/><use href="#d" xlink:href="#d" x="1109.8" y="897.5"/><use href="#d" xlink:href="#d" x="1130.9" y="897.5"/><use href="#d" xlink:href="#d" x="1152" y="897.5"/><use href="#d" xlink:href="#d" x="1173.1" y="897.5"/><use href="#d" xlink:href="#d" x="1194.3" y="897.5"/><use href="#d" xlink:href="#d" x="1215.4" y="897.5"/><use href="#d" xlink:href="#d" x="1236.5" y="897.5"/><use href="#d" xlink:href="#d" x="1257.6" y="897.5"/><use href="#d" xlink:href="#d" x="1278.8" y="897.5"/><use href="#d" xlink:href="#d" x="1299.9" y="897.5"/><use href="#d" xlink:href="#d" x="1321" y="897.5"/>
<use href="#d" xlink:href="#d" x="814" y="924"/><use href="#d" xlink:href="#d" x="835.1" y="924"/><use href="#d" xlink:href="#d" x="856.3" y="924"/><use href="#d" xlink:href="#d" x="877.4" y="924"/><use href="#d" xlink:href="#d" x="898.5" y="924"/><use href="#d" xlink:href="#d" x="919.6" y="924"/><use href="#d" xlink:href="#d" x="940.8" y="924"/><use href="#d" xlink:href="#d" x="961.9" y="924"/><use href="#d" xlink:href="#d" x="983" y="924"/><use href="#d" xlink:href="#d" x="1004.1" y="924"/><use href="#d" xlink:href="#d" x="1025.3" y="924"/><use href="#d" xlink:href="#d" x="1046.4" y="924"/><use href="#d" xlink:href="#d" x="1067.5" y="924"/><use href="#d" xlink:href="#d" x="1088.6" y="924"/><use href="#d" xlink:href="#d" x="1109.8" y="924"/><use href="#d" xlink:href="#d" x="1130.9" y="924"/><use href="#d" xlink:href="#d" x="1152" y="924"/><use href="#d" xlink:href="#d" x="1173.1" y="924"/><use href="#d" xlink:href="#d" x="1194.3" y="924"/><use href="#d" xlink:href="#d" x="1215.4" y="924"/><use href="#d" xlink:href="#d" x="1236.5" y="924"/><use href="#d" xlink:href="#d" x="1257.6" y="924"/><use href="#d" xlink:href="#d" x="1278.8" y="924"/><use href="#d" xlink:href="#d" x="1299.9" y="924"/><use href="#d" xlink:href="#d" x="1321" y="924"/>
<use href="#d" xlink:href="#d" x="1333" y="901"/><use href="#d" xlink:href="#d" x="1321" y="911"/><use href="#d" xlink:href="#d" x="1333" y="911"/><use href="#d" xlink:href="#d" x="1333" y="921"/>
</g>

<!-- Footer -->
<text x="1381" y="922" font-size="10" fill="#111" textLength="44" lengthAdjust="spacingAndGlyphs">LAYOUT</text>
<text x="1535" y="973" font-size="10.5" font-style="italic" text-anchor="end" fill="#111" style="font-family:'Liberation Serif',serif">68P81098E07-O</text>
<text x="1535" y="986" font-size="10.5" font-style="italic" text-anchor="end" fill="#111" style="font-family:'Liberation Serif',serif">(Sheet 3 of 4)</text>
<text x="1535" y="999" font-size="10.5" font-style="italic" text-anchor="end" fill="#111" style="font-family:'Liberation Serif',serif">1/1/2004</text>
</svg>
</body></html>
